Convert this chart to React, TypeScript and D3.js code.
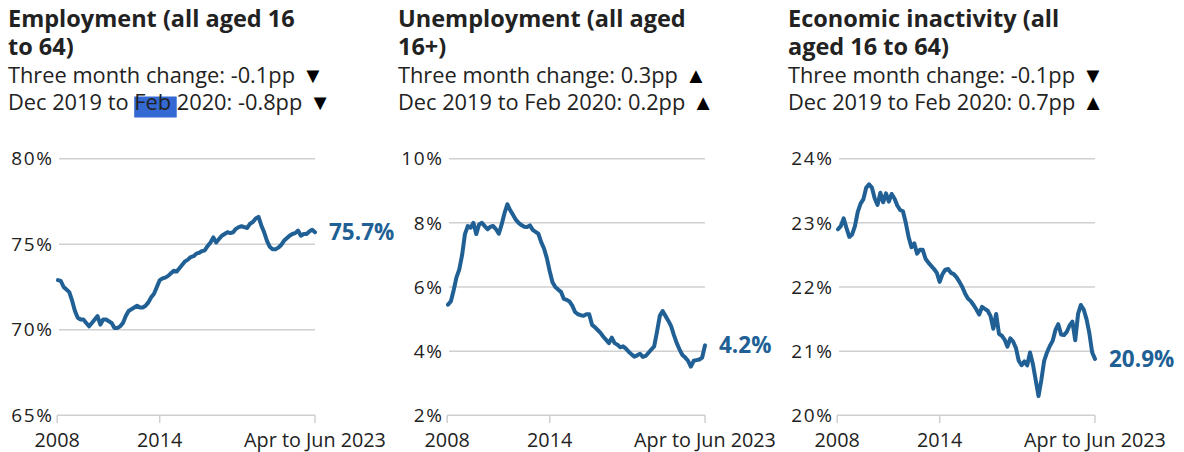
import React, { useLayoutEffect, useRef, useState } from "react";
import * as d3 from "d3";

// ---- Data (2-monthly readings, Jan-Mar 2008 ... Apr-Jun 2023) ----
const employment: number[] = [
  72.9, 72.85, 72.5, 72.35, 72.2, 71.7, 71.1, 70.7, 70.6, 70.6,
  70.4, 70.2, 70.4, 70.6, 70.8, 70.3, 70.6, 70.6, 70.5, 70.4,
  70.1, 70.1, 70.2, 70.4, 70.8, 71.1, 71.2, 71.3, 71.4, 71.3,
  71.3, 71.4, 71.6, 71.9, 72.1, 72.5, 72.9, 73.0, 73.05, 73.15,
  73.3, 73.45, 73.4, 73.6, 73.8, 74.0, 74.1, 74.25, 74.3, 74.45,
  74.5, 74.6, 74.65, 74.9, 75.1, 75.4, 75.1, 75.3, 75.5, 75.6,
  75.7, 75.65, 75.7, 75.9, 76.0, 76.05, 76.0, 75.95, 76.2, 76.3,
  76.5, 76.6, 76.1, 75.7, 75.2, 74.85, 74.7, 74.7, 74.8, 74.95,
  75.2, 75.35, 75.5, 75.6, 75.65, 75.8, 75.5, 75.6, 75.6, 75.75,
  75.85, 75.7,
];
const unemployment: number[] = [
  5.45, 5.55, 5.9, 6.3, 6.55, 7.0, 7.65, 7.9, 7.85, 8.0,
  7.65, 7.95, 8.0, 7.9, 7.8, 7.88, 7.9, 7.8, 7.66, 7.95,
  8.3, 8.58, 8.4, 8.25, 8.1, 8.0, 7.93, 7.88, 7.87, 7.92,
  7.78, 7.72, 7.66, 7.4, 7.2, 6.9, 6.5, 6.15, 6.0, 5.92,
  5.85, 5.63, 5.6, 5.55, 5.42, 5.22, 5.15, 5.12, 5.1, 5.15,
  5.15, 4.82, 4.75, 4.66, 4.57, 4.45, 4.35, 4.25, 4.42, 4.25,
  4.2, 4.12, 4.15, 4.08, 3.98, 3.9, 3.83, 3.87, 3.92, 3.82,
  3.85, 3.95, 4.05, 4.15, 4.6, 5.1, 5.25, 5.1, 4.95, 4.78,
  4.5, 4.25, 4.05, 3.88, 3.8, 3.7, 3.52, 3.7, 3.72, 3.74,
  3.8, 4.18,
];
const inactivity: number[] = [
  22.9, 22.95, 23.07, 22.92, 22.78, 22.82, 22.95, 23.17, 23.3, 23.37,
  23.55, 23.6, 23.55, 23.38, 23.28, 23.47, 23.32, 23.46, 23.33, 23.45,
  23.38, 23.27, 23.2, 23.18, 23.0, 22.78, 22.62, 22.68, 22.52, 22.58,
  22.58, 22.44, 22.38, 22.33, 22.28, 22.22, 22.08, 22.2, 22.27, 22.28,
  22.22, 22.2, 22.15, 22.08, 22.0, 21.9, 21.82, 21.78, 21.72, 21.65,
  21.57, 21.69, 21.66, 21.63, 21.55, 21.35, 21.58, 21.27, 21.24, 21.18,
  21.07, 21.2, 21.15, 21.05, 20.85, 20.78, 20.84, 20.78, 20.98, 20.8,
  20.55, 20.3, 20.55, 20.85, 20.98, 21.08, 21.16, 21.33, 21.42, 21.26,
  21.25, 21.3, 21.4, 21.46, 21.17, 21.58, 21.72, 21.65, 21.5, 21.28,
  20.98, 20.88,
];

const xTickLabels = ["2008", "2014", "Apr to Jun 2023"];
const xTickIndex = [0, 36, 91];

const empTicks = [65, 70, 75, 80];
const unempTicks = [2, 4, 6, 8, 10];
const inactTicks = [20, 21, 22, 23, 24];

const titles = [
  ["Employment (all aged 16", "to 64)"],
  ["Unemployment (all aged", "16+)"],
  ["Economic inactivity (all", "aged 16 to 64)"],
];
const threeMonth = [
  { text: "Three month change: -0.1pp", arrow: "▼" },
  { text: "Three month change: 0.3pp", arrow: "▲" },
  { text: "Three month change: -0.1pp", arrow: "▼" },
];
const preCovid = [
  { text: "2020: -0.8pp", arrow: "▼" },
  { text: "2020: 0.2pp", arrow: "▲" },
  { text: "2020: 0.7pp", arrow: "▲" },
];
const lastLabels = ["75.7%", "4.2%", "20.9%"];

const FONT = "'Open Sans', sans-serif";
const BLUE = "#206095";
const TEXT = "#222222";
const GRID = "#d0d0d0";

type PanelProps = {
  idx: number;
  values: number[];
  ticks: number[];
};

function Panel({ idx, values, ticks }: PanelProps) {
  const febRef = useRef<SVGTSpanElement>(null);
  const [hl, setHl] = useState<{ x: number; w: number } | null>(null);
  useLayoutEffect(() => {
    if (idx !== 0 || !febRef.current) return;
    const el = febRef.current;
    const p = el.getStartPositionOfChar(0);
    const w = el.getComputedTextLength();
    setHl({ x: p.x, w });
  }, [idx]);

  const ox = idx * 390;
  const x = d3.scaleLinear().domain([0, values.length - 1]).range([58, 315]);
  const y = d3
    .scaleLinear()
    .domain([ticks[0], ticks[ticks.length - 1]])
    .range([415.3, 158.7]);
  const line = d3
    .line<number>()
    .x((_, i) => x(i))
    .y((d) => y(d));
  const last = values[values.length - 1];
  return (
    <g transform={`translate(${ox},0)`} fontFamily={FONT}>
      {idx === 0 && hl && (
        <rect x={hl.x} y={96.5} width={hl.w} height={21} fill="#3468d2" />
      )}
      <text x={8} y={26.5} fontSize={23.5} fontWeight={700} fill={TEXT}>
        <tspan x={8}>{titles[idx][0]}</tspan>
        <tspan x={8} dy={28.5}>
          {titles[idx][1]}
        </tspan>
      </text>
      <text x={8} y={82.5} fontSize={21.8} fill={TEXT}>
        {threeMonth[idx].text}
        <tspan dx={7} fontSize={22} fill="#000">
          {threeMonth[idx].arrow}
        </tspan>
      </text>
      <text x={8} y={110} fontSize={21.8} fill={TEXT}>
        {"Dec 2019 to "}
        <tspan ref={febRef}>{"Feb "}</tspan>
        {preCovid[idx].text}
        <tspan dx={7} fontSize={22} fill="#000">
          {preCovid[idx].arrow}
        </tspan>
      </text>
      {ticks.map((t) => (
        <g key={t}>
          <line
            x1={t === ticks[0] ? 57 : 59}
            x2={315}
            y1={y(t)}
            y2={y(t)}
            stroke={GRID}
            strokeWidth={1.5}
          />
          <text
            x={53.5}
            y={y(t)}
            dy="0.35em"
            textAnchor="end"
            fontSize={19}
            letterSpacing={1.6}
            fill={TEXT}
          >
            {t}%
          </text>
        </g>
      ))}
      {xTickIndex.map((ti, k) => (
        <g key={k}>
          <line
            x1={x(ti) - (k === 0 ? 0.8 : 0)}
            x2={x(ti) - (k === 0 ? 0.8 : 0)}
            y1={415.3}
            y2={423}
            stroke={GRID}
            strokeWidth={1.5}
          />
          <text
            x={x(ti) - (k === 0 ? 0.8 : 0)}
            y={446.5}
            textAnchor="middle"
            fontSize={19.8}
            fill={TEXT}
          >
            {xTickLabels[k]}
          </text>
        </g>
      ))}
      <path
        d={line(values) || ""}
        fill="none"
        stroke={BLUE}
        strokeWidth={4}
        strokeLinejoin="round"
        strokeLinecap="round"
      />
      <text
        x={x(values.length - 1) + 14}
        y={y(last)}
        dy="0.35em"
        fontSize={22.5}
        fontWeight={700}
        fill={BLUE}
      >
        {lastLabels[idx]}
      </text>
    </g>
  );
}

export default function App() {
  return (
    <svg
      width={1184}
      height={452}
      style={{ position: "absolute", left: 0, top: 0, background: "#fff" }}
    >
      <rect width={1184} height={452} fill="#fff" />
      <Panel idx={0} values={employment} ticks={empTicks} />
      <Panel idx={1} values={unemployment} ticks={unempTicks} />
      <Panel idx={2} values={inactivity} ticks={inactTicks} />
    </svg>
  );
}
